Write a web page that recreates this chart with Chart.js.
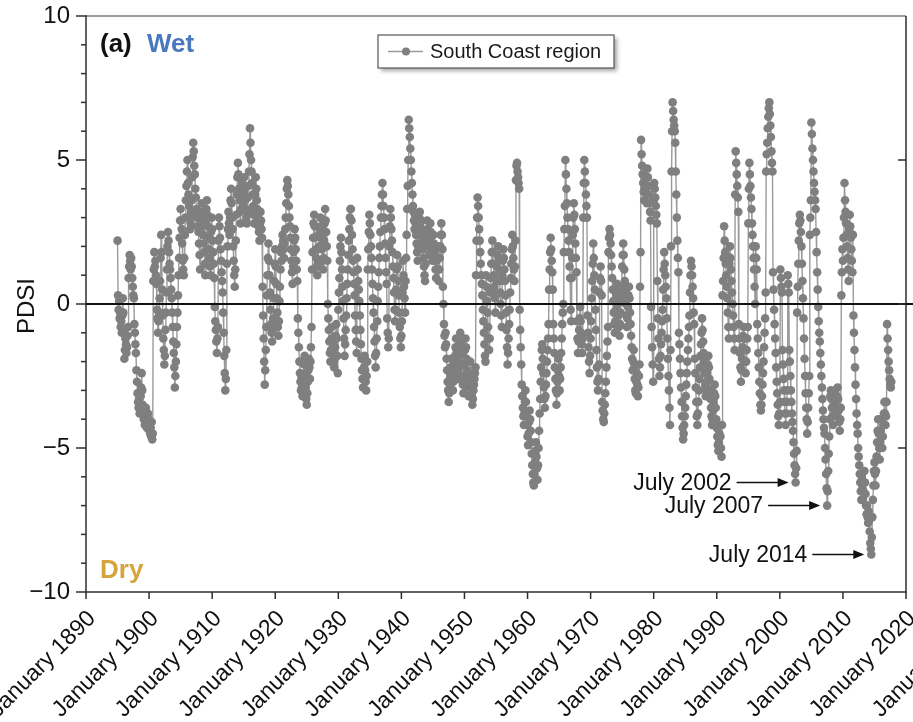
<!DOCTYPE html>
<html>
<head>
<meta charset="utf-8">
<script src="https://cdn.jsdelivr.net/npm/chart.js@4.4.0/dist/chart.umd.min.js"></script>
<style>
  html, body { margin: 0; padding: 0; background: #ffffff; }
  #wrap { width: 913px; height: 722px; }
</style>
</head>
<body>
<div id="wrap"><canvas id="pdsiChart" width="913" height="722"></canvas></div>
<script>
// Monthly Palmer Drought Severity Index, South Coast climate division.
// Each decade array holds consecutive monthly values starting in January.
const FIRST_YEAR = 1895;

const pdsi1890s = [
  2.2, 0.3, -0.2, 0.1, -0.5, -0.3, -0.8, -0.6, -1.0, -0.4, 0.2, -0.3,
  -0.9, -1.9, -1.6, -1.2, -1.4, -1.7, -1.5, -1.1, -0.8, 0.9, 1.3, 1.7,
  1.5, 1.2, 1.6, 1.3, 0.9, 0.6, 0.3, 0.2, -0.7, -1.0, -1.4, -1.7,
  -2.3, -2.7, -3.1, -3.4, -3.6, -3.3, -3.8, -3.5, -3.2, -2.9, -2.4, -3.0,
  -3.5, -3.7, -4.0, -3.9, -4.2, -4.0, -3.6, -3.9, -4.3, -4.1, -3.8, -4.0
];
const pdsi1900s = [
  -4.2, -4.4, -4.5, -4.3, -4.6, -4.1, -4.7, -4.5, 0.8, 1.2, 1.8, 1.3,
  1.5, 1.0, 0.7, -0.2, -0.5, -1.0, -0.6, -0.3, 0.2, 0.8, 1.6, 2.4,
  1.8, 0.5, -0.4, -1.2, -1.6, -2.1, -1.8, -0.9, -0.3, 0.4, 1.2, 2.0,
  2.5, 2.2, 1.8, 1.4, 1.2, 0.9, 0.5, 0.2, -0.3, -0.8, -1.3, -1.7,
  -2.2, -2.9, -2.5, -2.0, -1.4, -0.8, -0.3, 0.3, 1.0, 1.6, 2.3, 2.9,
  3.3, 2.9, 2.6, 2.1, 1.5, 1.2, 1.0, 1.6, 2.4, 3.0, 3.6, 4.1,
  4.6, 5.0, 4.2, 3.8, 3.4, 3.0, 2.6, 2.8, 3.2, 3.6, 4.4, 5.1,
  5.6, 5.3, 4.8, 4.5, 4.0, 3.7, 3.3, 3.0, 2.7, 3.2, 2.5, 2.1,
  1.7, 1.2, 2.6, 3.2, 3.5, 3.0, 2.8, 2.4, 2.1, 1.8, 1.4, 1.0,
  2.8, 3.3, 3.6, 3.1, 2.7, 2.3, 1.9, 1.6, 1.3, 1.0, 2.5, 3.0
];
const pdsi1910s = [
  2.6, 2.2, 1.8, 1.4, 0.9, -0.1, -0.6, -0.9, -1.3, -1.7, -1.2, -0.8,
  2.2, 3.0, 2.7, 2.3, 1.9, 1.5, 1.1, 0.8, 0.4, -0.3, -1.0, -1.8,
  -2.4, -3.0, -2.6, -1.6, 1.4, 2.0, 2.6, 3.2, 2.8, 2.4, 3.0, 3.6,
  4.0, 3.5, 3.0, 2.6, 2.0, 1.5, 1.0, 0.6, 1.2, 2.2, 3.1, 3.8,
  4.4, 4.9, 4.5, 4.0, 3.6, 3.2, 2.8, 3.3, 3.8, 4.2, 3.7, 3.4,
  3.9, 4.4, 4.0, 3.6, 3.3, 3.0, 2.8, 3.2, 3.7, 4.1, 4.6, 5.2,
  6.1, 5.6, 5.0, 4.6, 4.2, 3.8, 3.4, 3.1, 2.8, 3.3, 3.8, 4.4,
  4.0, 3.6, 3.3, 3.0, 2.7, 2.5, 2.2, 2.8, 3.2, 2.9, 2.6, 2.3,
  0.6, -0.4, -1.2, -2.0, -2.8, -2.3, -1.6, -0.8, 0.3, 1.0, 1.6, 2.1,
  1.5, 1.0, 0.4, -0.2, -0.7, -1.0, -1.3, -0.9, -0.5, 0.2, 0.8, 1.4
];
const pdsi1920s = [
  1.9, 1.3, 0.7, 0.2, -0.3, -0.8, -1.1, -0.6, 0.1, 0.6, 1.2, 1.8,
  1.5, 2.0, 2.4, 2.2, 1.9, 1.6, 2.1, 2.6, 3.0, 3.5, 4.0, 4.3,
  4.1, 3.8, 3.4, 3.0, 2.7, 2.3, 1.9, 1.5, 1.1, 0.7, 1.3, 1.8,
  2.2, 2.6, 2.3, 1.9, 1.5, 1.2, 0.8, -0.5, -1.0, -1.5, -2.0, -2.4,
  -2.7, -3.0, -2.6, -2.9, -3.2, -2.8, -2.5, -2.1, -1.8, -2.4, -2.9, -3.3,
  -3.5, -3.1, -2.7, -2.3, -1.9, -2.2, -2.6, -2.0, -1.5, -0.8, 1.2, 1.8,
  2.3, 2.8, 3.1, 2.7, 2.3, 1.9, 1.6, 1.3, 1.0, 1.4, 1.9, 2.4,
  2.0, 2.6, 3.0, 2.7, 2.3, 1.9, 1.5, 1.2, 1.6, 2.2, 2.8, 3.3,
  2.9, 2.5, 2.0, 1.5, 0.0, -0.5, -0.9, -1.3, -1.7, -2.0, -1.6, -1.2,
  -0.8, -1.3, -1.7, -2.0, -2.2, -1.9, -1.5, -1.1, -0.7, -1.2, -1.8, -2.4
];
const pdsi1930s = [
  -0.2, 0.4, 0.9, 1.5, 2.0, 2.3, 1.8, 1.2, 0.6, 0.1, -0.5, -1.2,
  -1.8, -1.4, -0.9, -0.4, 0.2, 0.7, 1.2, 1.7, 2.2, 2.6, 3.0, 3.3,
  3.3, 2.9, 2.4, 1.9, 1.5, 1.1, 0.7, 0.3, -0.4, -0.9, -1.3, -1.7,
  1.6, 1.2, 0.8, 0.5, 0.1, -0.4, -0.9, -1.4, -1.9, -2.3, -2.6, -2.9,
  -2.6, -2.2, -1.8, -2.3, -2.7, -3.0, -2.5, -2.0, 1.2, 1.9, 2.5, 3.1,
  2.8, 2.4, 2.0, 1.6, 1.2, 0.7, 0.2, -0.3, -0.8, -1.3, -1.8, -2.2,
  -1.7, -1.2, -0.6, 0.1, 0.6, 1.1, 1.6, 2.0, 2.5, 3.0, 3.4, 3.8,
  4.2, 3.8, 3.4, 3.0, 2.6, 2.1, 1.6, 1.1, 0.7, -0.5, -1.0, -1.5,
  -1.2, 2.0, 2.7, 3.3, 3.0, 2.6, 2.2, 1.8, 1.3, 0.9, 0.4, -0.2,
  -0.6, -0.2, 0.5, 1.2, 1.7, 1.3, 0.8, 0.3, -0.3, -0.8, -1.2, -1.5
];
const pdsi1940s = [
  -1.1, -0.6, 0.4, 1.5, 1.0, 0.6, 0.2, -0.3, 0.8, 1.6, 2.4, 3.3,
  4.1, 5.0, 6.4, 6.1, 5.8, 5.4, 5.0, 4.6, 4.2, 3.8, 3.4, 3.2,
  2.9, 2.6, 3.1, 2.8, 2.4, 2.1, 1.8, 1.5, 2.0, 2.6, 3.0, 3.2,
  2.8, 2.4, 2.9, 2.6, 2.2, 1.9, 1.6, 1.3, 1.0, 0.8, 1.4, 2.0,
  2.5, 2.9, 2.6, 2.3, 2.0, 1.7, 2.2, 2.8, 2.5, 2.1, 1.8, 1.5,
  1.9, 2.4, 2.1, 1.8, 1.5, 1.2, 0.9, 1.5, 2.0, 1.6, 1.2, 0.8,
  1.2, 1.6, 2.0, 2.4, 2.8, 2.4, 1.9, 0.6, 0.0, -0.7, -1.1, -1.5,
  -1.0, -1.4, -1.9, -2.3, -2.7, -3.0, -3.4, -3.1, -2.8, -2.5, -2.2, -1.9,
  -2.2, -2.6, -3.0, -2.7, -2.4, -2.1, -1.8, -1.5, -1.2, -1.6, -2.0, -2.3,
  -2.6, -2.2, -1.8, -1.4, -1.0, -1.3, -1.7, -2.1, -2.5, -2.8, -3.1, -2.6
];
const pdsi1950s = [
  -2.1, -1.6, -1.2, -1.5, -1.9, -2.3, -2.6, -2.9, -3.2, -2.8, -2.4, -2.0,
  -2.6, -2.9, -3.2, -3.5, -3.3, -3.0, -2.8, -2.6, -2.4, -2.2, 1.0, 2.2,
  3.0, 3.7, 3.4, 3.0, 2.6, 2.2, 1.8, 1.4, 1.0, 0.7, 0.3, -0.2,
  -0.6, -1.0, -1.4, -1.8, -2.0, 1.0, 0.6, 0.1, -0.3, -0.8, -1.2, -1.6,
  -1.2, 0.4, 0.9, 1.4, 1.8, 2.2, 1.8, 1.4, 1.0, 0.6, 0.2, -0.3,
  0.3, 0.8, 1.3, 1.7, 2.0, 1.6, 1.2, 0.8, 0.4, 0.0, -0.4, -0.8,
  1.0, 1.5, 1.9, 1.6, 1.2, 0.8, 0.3, -0.3, -0.9, -1.5, -2.1, -1.7,
  -1.2, -0.7, -0.2, 0.4, 0.9, 1.4, 1.9, 2.4, 2.0, 1.6, 1.2, 0.8,
  1.3, 2.2, 4.3, 4.8, 4.9, 4.6, 4.4, 4.2, 4.0, -0.2, -0.9, -1.5,
  -2.1, -2.8, -3.2, -3.6, -3.9, -4.2, -3.8, -3.4, -3.0, -3.4, -3.8, -4.2
];
const pdsi1960s = [
  -4.6, -4.9, -4.5, -4.1, -3.7, -4.0, -4.4, -4.8, -5.2, -5.6, -5.9, -6.2,
  -6.3, -5.9, -5.5, -5.1, -4.8, -5.3, -5.7, -6.1, -5.6, -5.0, -4.4, -3.8,
  -3.3, -2.7, -2.2, -1.6, -1.4, -1.9, -2.4, -2.9, -3.3, -3.6, -3.2, -2.8,
  -2.4, -2.0, -1.6, -1.2, -0.7, 0.5, 1.2, 1.8, 2.3, 1.9, 1.5, 1.1,
  0.5, -0.7, -1.2, -1.7, -2.2, -2.6, -3.0, -3.5, -3.1, -2.7, -2.3, -1.9,
  -2.5, -3.0, -2.6, -2.2, -1.7, -1.2, -0.7, -0.3, 0.0, 1.8, 2.6, 3.4,
  5.0, 4.5, 4.0, 3.5, 3.0, 2.6, 2.2, 1.8, 1.3, 0.9, -0.2, -0.6,
  0.9, 1.6, 2.4, 3.0, 3.5, 3.1, 2.6, 2.1, 1.6, 1.1, -0.6, -1.2,
  -1.7, -1.3, -0.9, -0.5, -0.1, -0.6, -1.0, -1.4, -1.7, -1.2, 3.0, 4.2,
  5.0, 4.6, 4.2, 3.8, 3.4, 3.0, -0.4, -1.0, -1.5, -2.0, -2.4, -1.8
];
const pdsi1970s = [
  -1.2, -0.6, 0.2, 0.8, 1.4, 2.1, 1.6, 1.0, 0.5, -0.2, -0.9, -1.6,
  -2.2, -2.7, -3.0, -2.6, -2.1, 0.4, 0.9, 1.3, 0.8, 0.3, -3.4, -3.7,
  -4.0, -4.1, -3.8, -3.5, -3.1, -2.7, -2.2, -1.8, -1.3, -0.8, 1.8, 2.3,
  2.6, 2.4, 2.1, 1.7, 1.3, 0.9, 0.5, 0.1, -0.3, -0.7, -1.0, -0.6,
  -0.2, 0.3, 0.7, 0.4, 0.0, -0.4, -0.8, -1.1, -0.7, -0.3, 0.2, 0.6,
  1.3, 1.7, 2.1, 1.7, 1.2, 0.8, 0.4, 0.0, -0.4, -0.8, -0.5, -0.1,
  0.3, 0.6, 0.2, -0.3, -0.7, -1.1, -1.5, -1.9, -2.3, -2.0, -1.6, -2.2,
  -2.6, -3.0, -3.1, -2.7, -2.4, -2.8, -3.2, -2.9, -2.5, -2.1, 0.6, 1.8,
  5.7, 5.2, 4.8, 4.5, 4.2, 3.9, 3.6, 4.0, 4.4, 4.1, 3.8, 3.5,
  4.7, 4.4, 4.1, 3.8, 3.5, 3.2, 2.9, -0.1, -0.8, -1.5, -2.1, -2.7
];
const pdsi1980s = [
  3.6, 4.2, 4.0, 3.7, 3.4, 3.1, 2.8, 0.8, -0.5, -1.2, -1.9, -2.5,
  -2.2, -1.8, -1.4, -1.0, -0.6, -0.2, 0.5, 1.2, 1.8, 1.4, 1.0, 0.6,
  0.2, -0.5, -1.2, -1.9, -2.5, -3.0, -3.6, -4.2, -1.6, 2.0, 4.6, 6.0,
  7.0, 6.7, 6.4, 6.2, 6.0, 5.6, 4.6, 3.8, 3.0, 2.2, 1.6, 1.1,
  -1.0, -1.4, -1.9, -2.4, -2.9, -3.4, -3.9, -4.3, -4.7, -4.5, -4.2, -3.9,
  -3.6, -3.2, -2.8, -2.4, -2.0, -1.6, -1.2, -0.8, -0.4, 0.4, 1.0, 1.5,
  1.3, 1.0, 0.6, 0.2, -0.3, -0.7, -1.9, -2.4, -2.9, -3.4, -3.9, -4.2,
  -3.8, -3.4, -3.0, -2.6, -2.2, -1.8, -1.4, -1.0, -0.5, -0.9, -1.3, -1.7,
  -2.0, -2.4, -2.8, -3.2, -3.0, -2.7, -2.4, -2.1, -1.8, -2.2, -2.6, -3.0,
  -3.3, -3.6, -3.9, -4.2, -4.0, -3.7, -3.4, -3.1, -2.8, -3.2, -3.6, -4.0
];
const pdsi1990s = [
  -4.3, -4.6, -4.9, -5.1, -4.8, -4.5, -4.2, -4.6, -5.0, -5.3, -4.2, 0.3,
  0.8, 1.6, 2.7, 2.2, 1.8, 1.4, 1.0, 0.6, 0.2, -0.3, -0.8, -1.2,
  1.4, 2.0, 1.6, 1.2, 0.8, 0.4, 0.0, -0.4, -0.8, -1.2, -1.6, 3.8,
  5.3, 4.9, 4.5, 4.1, 3.7, 3.2, -0.7, -1.2, -1.7, -2.2, -2.7, -2.3,
  -1.9, -1.5, -1.1, -0.8, -1.2, -1.6, -2.0, -2.4, -2.0, -1.6, -1.2, -0.8,
  2.8, 4.0, 4.9, 4.5, 4.1, 3.7, 3.3, 2.8, 2.4, 2.0, 1.6, 1.2,
  0.6, 0.0, 2.0, 1.6, 1.2, -0.7, -1.2, -1.7, -2.2, -2.7, -3.1, -3.5,
  -3.7, -3.5, -3.2, -2.8, -2.4, -2.0, -1.5, -1.0, -0.5, 0.4, 4.6, 5.2,
  5.6, 6.1, 6.5, 6.8, 7.0, 6.6, 6.2, 5.8, 5.3, 4.9, 4.6, 1.1,
  0.5, -0.2, -0.7, -1.2, -1.7, -2.2, -2.7, -3.1, -3.5, -3.9, -4.2, -3.8
];
const pdsi2000s = [
  -3.4, 1.2, 0.9, 0.6, 0.4, -1.6, -2.1, -2.6, -3.0, -3.4, -3.8, -4.2,
  -3.8, -3.4, -3.0, 1.0, 0.7, 0.4, -1.6, -2.0, -2.5, -3.0, -3.4, -3.8,
  -4.1, -4.4, -4.8, -5.2, -5.6, -5.9, -6.2, -5.7, -5.1, -0.3, 0.6, 1.4,
  2.2, 2.8, 3.1, 2.9, 2.5, 2.0, 1.4, 0.8, 0.2, -0.5, -1.2, -1.9,
  -2.5, -3.1, -3.6, -4.0, -4.5, -4.1, -3.6, -3.1, -2.5, 2.4, 3.0, 3.6,
  6.3, 5.9, 5.4, 5.0, 4.6, 4.2, 3.9, 3.6, 3.3, 2.5, 1.8, 1.1,
  0.5, -0.1, -0.6, -1.0, -1.3, -1.7, -2.1, -2.5, -2.9, -3.3, -3.7, -4.0,
  -4.3, -4.5, -5.0, -5.4, -5.9, -6.4, -7.0, -6.5, -5.8, -5.2, -4.6, -4.0,
  -3.2, -3.0, -3.3, -3.6, -3.9, -4.2, -3.9, -3.6, -3.3, -3.0, -3.4, -3.8,
  -3.6, -3.2, -2.9, -3.3, -3.7, -4.1, -4.4, -4.0, -3.6, 0.3, 1.1, 1.9
];
const pdsi2010s = [
  1.5, 2.3, 3.0, 4.2, 3.6, 3.2, 2.8, 2.4, 2.0, 1.6, 1.2, 0.8,
  2.6, 3.1, 2.7, 2.3, 1.9, 1.5, 1.1, 2.4, -0.4, -1.0, -1.6, -2.2,
  -2.8, -3.3, -3.8, -4.2, -4.5, -5.0, -5.3, -5.6, -5.9, -6.2, -6.5, -6.8,
  -6.0, -6.4, -6.8, -6.5, -6.2, -5.8, -6.2, -6.6, -7.0, -7.3, -7.0, -7.4,
  -7.6, -7.2, -7.5, -7.9, -8.3, -8.5, -8.7, -8.1, -7.4, -6.8, -6.3, -5.8,
  -5.5, -5.9, -6.3, -5.8, -5.3, -4.8, -4.4, -4.0, -4.5, -5.0, -5.4, -4.8,
  -4.4, -4.0, -4.6, -5.0, -4.6, -4.2, -3.8, -3.4, -3.8, -4.2, -3.9, -3.4,
  -0.7, -1.2, -1.6, -2.0, -2.3, -2.6, -2.8, -2.9, -2.7
];

const decadeTicks = [1890, 1900, 1910, 1920, 1930, 1940, 1950, 1960, 1970,
                     1980, 1990, 2000, 2010, 2020, 2030];
const pdsiTicks = [10, 5, 0, -5, -10];
const seriesLabel = 'South Coast region';
const droughtMarks = [
  { label: 'July 2002', year: 2002, month: 7 },
  { label: 'July 2007', year: 2007, month: 7 },
  { label: 'July 2014', year: 2014, month: 7 }
];

const FONT = '"Liberation Sans", Arial, Helvetica, sans-serif';

const monthly = [].concat(pdsi1890s, pdsi1900s, pdsi1910s, pdsi1920s, pdsi1930s,
  pdsi1940s, pdsi1950s, pdsi1960s, pdsi1970s, pdsi1980s, pdsi1990s, pdsi2000s, pdsi2010s);
const points = monthly.map((v, i) => ({ x: FIRST_YEAR + i / 12, y: v }));

function seg(ctx, x1, y1, x2, y2) {
  ctx.beginPath(); ctx.moveTo(x1, y1); ctx.lineTo(x2, y2); ctx.stroke();
}

const decorations = {
  id: 'decorations',
  afterDraw(chart) {
    const { ctx, chartArea: a } = chart;
    const xs = chart.scales.x, ys = chart.scales.y;
    ctx.save();

    // frame
    ctx.lineWidth = 1.5;
    ctx.strokeStyle = '#7d7d7d';
    seg(ctx, a.left, a.top, a.right, a.top);
    ctx.strokeStyle = '#2e2e2e';
    seg(ctx, a.right, a.top, a.right, a.bottom);
    seg(ctx, a.left, a.top - 0.75, a.left, a.bottom);
    seg(ctx, a.left, a.bottom, a.right + 0.75, a.bottom);

    // zero line
    const y0 = ys.getPixelForValue(0);
    ctx.strokeStyle = '#111';
    ctx.lineWidth = 2;
    seg(ctx, a.left, y0, chart.width, y0);

    // y ticks: majors every 5, minors every 1 (left); majors inward on right
    ctx.lineWidth = 1.5;
    ctx.strokeStyle = '#2e2e2e';
    for (let v = -10; v <= 10; v++) {
      const py = ys.getPixelForValue(v);
      const len = v % 5 === 0 ? 10 : 5;
      seg(ctx, a.left - len, py, a.left, py);
    }
    pdsiTicks.filter(v => Math.abs(v) < 10).forEach(v => {
      const py = ys.getPixelForValue(v);
      seg(ctx, a.right - 8, py, a.right, py);
    });

    // x ticks and rotated date labels
    ctx.font = '23px ' + FONT;
    ctx.fillStyle = '#111';
    ctx.textAlign = 'right';
    ctx.textBaseline = 'middle';
    decadeTicks.forEach(yr => {
      const px = xs.getPixelForValue(yr);
      if (yr <= xs.max) seg(ctx, px, a.bottom, px, a.bottom + 7);
      ctx.save();
      ctx.translate(px + 6, a.bottom + 23);
      ctx.rotate(-Math.PI / 4);
      ctx.fillText('January ' + yr, 0, 0);
      ctx.restore();
    });

    // y axis title
    ctx.save();
    ctx.translate(27, (a.top + a.bottom) / 2 + 2);
    ctx.rotate(-Math.PI / 2);
    ctx.textAlign = 'center';
    ctx.font = '24px ' + FONT;
    ctx.fillText('PDSI', 0, 0);
    ctx.restore();

    // panel tag and wet / dry cues
    ctx.textAlign = 'left';
    ctx.textBaseline = 'alphabetic';
    ctx.font = 'bold 26px ' + FONT;
    ctx.fillStyle = '#111';
    ctx.fillText('(a)', a.left + 14, a.top + 36);
    ctx.fillStyle = '#4a78bd';
    ctx.fillText('Wet', a.left + 61, a.top + 36);
    ctx.fillStyle = '#d3a53c';
    ctx.fillText('Dry', a.left + 14, a.bottom - 14);

    // legend box
    const ds = chart.data.datasets[0];
    const bw = 236, bh = 33;
    const bx = Math.round((a.left + a.right) / 2 - bw / 2), by = a.top + 19;
    ctx.save();
    ctx.shadowColor = 'rgba(0,0,0,0.35)';
    ctx.shadowBlur = 4;
    ctx.shadowOffsetX = 3;
    ctx.shadowOffsetY = 3;
    ctx.fillStyle = '#fff';
    ctx.fillRect(bx, by, bw, bh);
    ctx.restore();
    ctx.lineWidth = 1.2;
    ctx.strokeStyle = '#555';
    ctx.strokeRect(bx, by, bw, bh);
    const ly = by + bh / 2;
    ctx.strokeStyle = ds.borderColor;
    ctx.lineWidth = 1.5;
    seg(ctx, bx + 10, ly, bx + 45, ly);
    ctx.fillStyle = ds.pointBackgroundColor;
    ctx.beginPath(); ctx.arc(bx + 28, ly, 4, 0, Math.PI * 2); ctx.fill();
    ctx.fillStyle = '#1a1a1a';
    ctx.font = '20px ' + FONT;
    ctx.textBaseline = 'middle';
    ctx.fillText(ds.label, bx + 52, ly + 1);

    // drought minima callouts
    const meta = chart.getDatasetMeta(0);
    ctx.font = '23px ' + FONT;
    ctx.textAlign = 'right';
    ctx.fillStyle = '#111';
    ctx.strokeStyle = '#111';
    droughtMarks.forEach(m => {
      const idx = (m.year - FIRST_YEAR) * 12 + (m.month - 1);
      const el = meta.data[idx];
      if (!el) return;
      const tipX = el.x - 7, y = el.y;
      const startX = tipX - 52;
      ctx.lineWidth = 1.5;
      seg(ctx, startX, y, tipX - 8, y);
      ctx.beginPath();
      ctx.moveTo(tipX, y);
      ctx.lineTo(tipX - 11, y - 4.5);
      ctx.lineTo(tipX - 11, y + 4.5);
      ctx.closePath();
      ctx.fill();
      ctx.fillText(m.label, startX - 5, y + 1);
    });

    ctx.restore();
  }
};

new Chart(document.getElementById('pdsiChart'), {
  type: 'line',
  data: {
    datasets: [{
      label: seriesLabel,
      data: points,
      borderColor: '#9a9a9a',
      borderWidth: 1.4,
      pointRadius: 4.3,
      pointBackgroundColor: '#7f7f7f',
      pointBorderColor: '#7f7f7f',
      pointBorderWidth: 0,
      tension: 0,
      fill: false
    }]
  },
  options: {
    responsive: false,
    animation: false,
    devicePixelRatio: 1,
    events: [],
    layout: { padding: { left: 0, right: 7, top: 16, bottom: 0 } },
    plugins: { legend: { display: false }, tooltip: { enabled: false } },
    scales: {
      x: {
        type: 'linear',
        min: 1890,
        max: 2020,
        ticks: { display: false, stepSize: 10 },
        grid: { display: false, drawTicks: false },
        border: { display: false },
        afterFit(scale) { scale.height = 130; scale.paddingLeft = 0; scale.paddingRight = 0; }
      },
      y: {
        min: -10,
        max: 10,
        ticks: {
          stepSize: 5,
          padding: 16,
          color: '#111',
          font: { family: FONT, size: 24 },
          callback: v => String(v).replace('-', '\u2212')
        },
        grid: { display: false, drawTicks: false },
        border: { display: false },
        afterFit(scale) { scale.width = 86; scale.paddingTop = 0; scale.paddingBottom = 0; }
      }
    }
  },
  plugins: [decorations]
});
</script>
</body>
</html>
